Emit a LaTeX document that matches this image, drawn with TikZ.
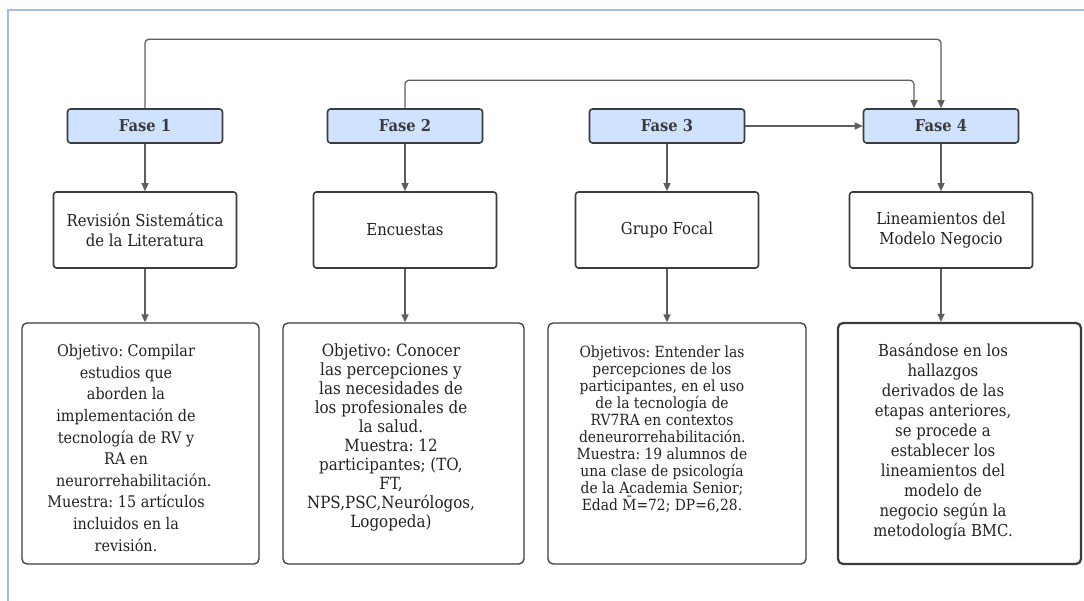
\documentclass[tikz,border=0pt]{standalone}
\usepackage{fontspec}
\setmainfont{DejaVu Serif}[FakeStretch=0.9]
\usetikzlibrary{arrows.meta}
\definecolor{frameblue}{HTML}{A3BDE8}
\definecolor{phasefill}{HTML}{CFE2FF}
\definecolor{boxline}{HTML}{3B3B3B}
\definecolor{linkgray}{HTML}{5E5E5E}
\definecolor{inktext}{HTML}{222222}
\frenchspacing

\begin{document}
\begin{tikzpicture}[x=1pt,y=-1pt,
  phase/.style={draw=boxline, fill=phasefill, line width=1.6pt, rounded corners=3pt,
    minimum width=155pt, minimum height=34pt, inner sep=0pt,
    font=\bfseries\fontsize{16.3}{19}\selectfont, text=boxline},
  stage/.style={draw=boxline, fill=white, line width=1.6pt, rounded corners=3pt,
    minimum width=183pt, minimum height=76pt, inner sep=0pt, align=center,
    font=\fontsize{16.5}{20}\selectfont, text=inktext},
  detail/.style={draw=boxline, line width=1.3pt, rounded corners=5pt,
    minimum height=241pt, inner sep=0pt},
  note/.style={align=center, text=inktext, inner sep=0pt},
  link/.style={draw=linkgray, line width=1.3pt, -{Triangle[length=8pt,width=7pt]}},
]
\useasboundingbox (0,0) rectangle (1084,601);

% page frame
\draw[frameblue, line width=2pt] (8,601) -- (8,10.5) -- (1084,10.5);

% phases
\node[phase] (f1) at (145,126) {Fase 1};
\node[phase] (f2) at (405,126) {Fase 2};
\node[phase] (f3) at (667,126) {Fase 3};
\node[phase] (f4) at (941,126) {Fase 4};

% stages
\node[stage] (r1) at (145,230) {Revisión Sistemática\\de la Literatura};
\node[stage] (r2) at (405,230) {Encuestas};
\node[stage] (r3) at (667,230) {Grupo Focal};
\node[stage] (r4) at (941,230) {Lineamientos del\\Modelo Negocio};

% detail boxes
\node[detail, minimum width=237pt] (b1) at (140.5,443.5) {};
\node[detail, minimum width=241pt] (b2) at (403.5,443.5) {};
\node[detail, minimum width=258pt] (b3) at (677,443.5) {};
\node[detail, minimum width=243pt, line width=2.2pt] (b4) at (959.5,443.5) {};

% detail texts
\node[note, font=\fontsize{16}{21.6}\selectfont] (t1) at (126,448) {Objetivo: Compilar\\estudios que\\aborden la\\implementación de\\tecnología de RV y\\RA en\\\makebox[140pt][l]{neurorrehabilitación.}\\Muestra: 15 artículos\\incluidos en la\\revisión.};
\node[note, font=\fontsize{16.8}{19}\selectfont] (t2) at (391,437) {Objetivo: Conocer\\las percepciones y\\las necesidades de\\los profesionales de\\la salud.\\Muestra: 12\\participantes; (TO,\\FT,\\NPS,PSC,Neurólogos,\\Logopeda)};
\node[note, font=\fontsize{15.4}{17}\selectfont] (t3) at (662,429) {Objetivos: Entender las\\percepciones de los\\participantes, en el uso\\de la tecnología de\\RV7RA en contextos\\\makebox[166pt][l]{deneurorrehabilitación.}\\Muestra: 19 alumnos de\\una clase de psicología\\de la Academia Senior;\\Edad M̄=72; DP=6,28.};
\node[note, font=\fontsize{16.5}{20}\selectfont] (t4) at (943,442) {Basándose en los\\hallazgos\\derivados de las\\etapas anteriores,\\se procede a\\establecer los\\lineamientos del\\modelo de\\negocio según la\\metodología BMC.};

% vertical flow
\foreach \i in {1,2,3,4} {
  \draw[link] (f\i.south) -- (r\i.north);
  \draw[link] (r\i.south) -- (r\i.south |- b\i.north);
}

% feedback into phase 4
\draw[link, rounded corners=4pt] (f1.north) -- ++(0,-69) -| (f4.north);
\draw[link, rounded corners=4pt] (f2.north) -- ++(0,-28) -| ([xshift=-27pt]f4.north);
\draw[link] (f3.east) -- (f4.west);
\end{tikzpicture}
\end{document}
